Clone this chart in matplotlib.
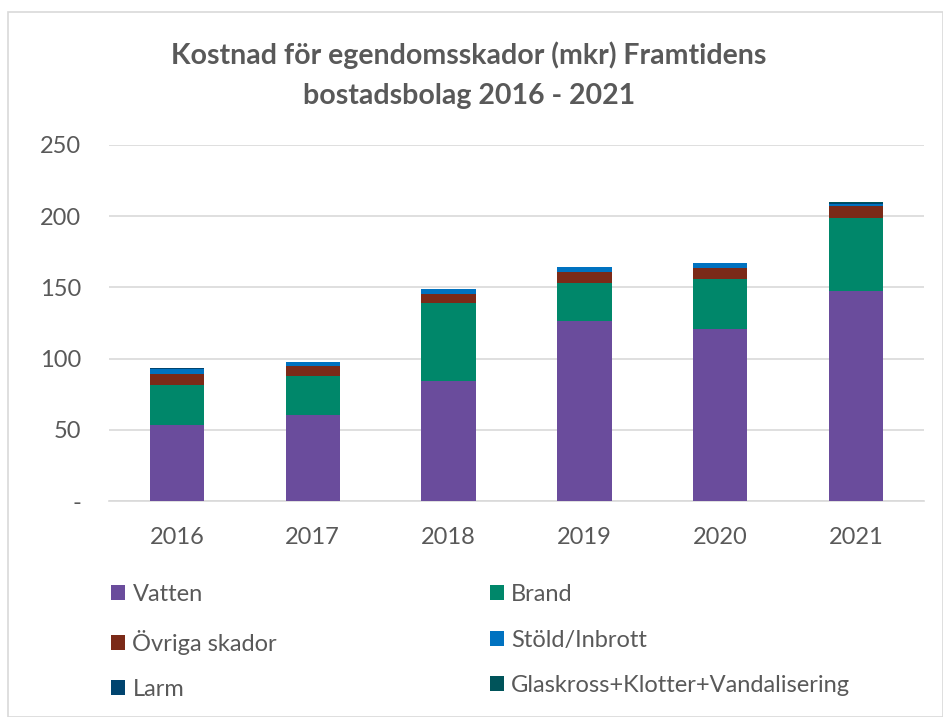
import matplotlib
matplotlib.use("Agg")
import matplotlib.pyplot as plt
from matplotlib.patches import Rectangle
import numpy as np

plt.rcParams['font.family'] = ['Lato', 'DejaVu Sans']

years = ["2016", "2017", "2018", "2019", "2020", "2021"]
vatten = [53.2, 60.6, 84.1, 126.6, 120.8, 147.6]
brand = [28.5, 27.0, 55.2, 26.3, 35.3, 50.9]
ovriga = [7.3, 7.0, 6.1, 7.9, 7.3, 8.6]
stold = [4.0, 3.0, 3.3, 3.5, 3.5, 1.6]
larm = [0.1, 0.1, 0.1, 0.1, 0.1, 0.5]
glas = [0.1, 0.1, 0.1, 0.1, 0.1, 0.5]

series = [
    ("Vatten", vatten, "#6A4C9C"),
    ("Brand", brand, "#00876A"),
    ("Övriga skador", ovriga, "#7B2A18"),
    ("Stöld/Inbrott", stold, "#0072C0"),
    ("Larm", larm, "#00446F"),
    ("Glaskross+Klotter+Vandalisering", glas, "#00545A"),
]

W, H = 943, 717
fig = plt.figure(figsize=(W / 100, H / 100), dpi=100)
ax = fig.add_axes([109 / W, 1 - 501 / H, (924 - 109) / W, (501 - 145) / H])

x = np.arange(len(years))
bottom = np.zeros(len(years))
handles = {}
for name, vals, col in series:
    b = ax.bar(x, vals, 0.4, bottom=bottom, color=col, label=name, zorder=3,
               edgecolor='none')
    handles[name] = b
    bottom += np.array(vals)

ax.set_xlim(-0.5, len(years) - 0.5)
ax.set_ylim(0, 250)
ax.set_yticks([0, 50, 100, 150, 200, 250])
ax.set_yticklabels(["-", "50", "100", "150", "200", "250"])
ax.set_xticks(x)
ax.set_xticklabels(years)
ax.yaxis.grid(True, color="#D9D9D9", linewidth=1.2, zorder=0)
ax.set_axisbelow(True)
for s in ["top", "right", "left"]:
    ax.spines[s].set_visible(False)
ax.spines["bottom"].set_color("#D9D9D9")
ax.spines["bottom"].set_linewidth(1.2)
ax.tick_params(axis='both', length=0, labelsize=17, colors="#595959")
ax.tick_params(axis='y', pad=20)
ax.tick_params(axis='x', pad=19)

fig.text(469 / W, 1 - 75 / H,
         "Kostnad för egendomsskador (mkr) Framtidens\nbostadsbolag 2016 - 2021",
         ha="center", va="center", fontsize=20.5, fontweight="bold",
         color="#595959", linespacing=1.67)

order = ["Vatten", "Övriga skador", "Larm", "Brand", "Stöld/Inbrott",
         "Glaskross+Klotter+Vandalisering"]
leg = fig.legend([handles[n] for n in order], order, ncol=2,
                 loc="upper left", bbox_to_anchor=(90 / W, 1 - 563 / H),
                 frameon=False, fontsize=17, labelcolor="#595959",
                 handlelength=0.6, handleheight=0.6, handletextpad=0.3,
                 labelspacing=1.03, columnspacing=9.0)

fig.patches.append(Rectangle((8 / W, 0), (W - 8) / W, 1 - 12 / H,
                             transform=fig.transFigure, fill=False,
                             edgecolor="#D9D9D9", linewidth=1.2))

fig.savefig("out.png", dpi=100, facecolor="white")
